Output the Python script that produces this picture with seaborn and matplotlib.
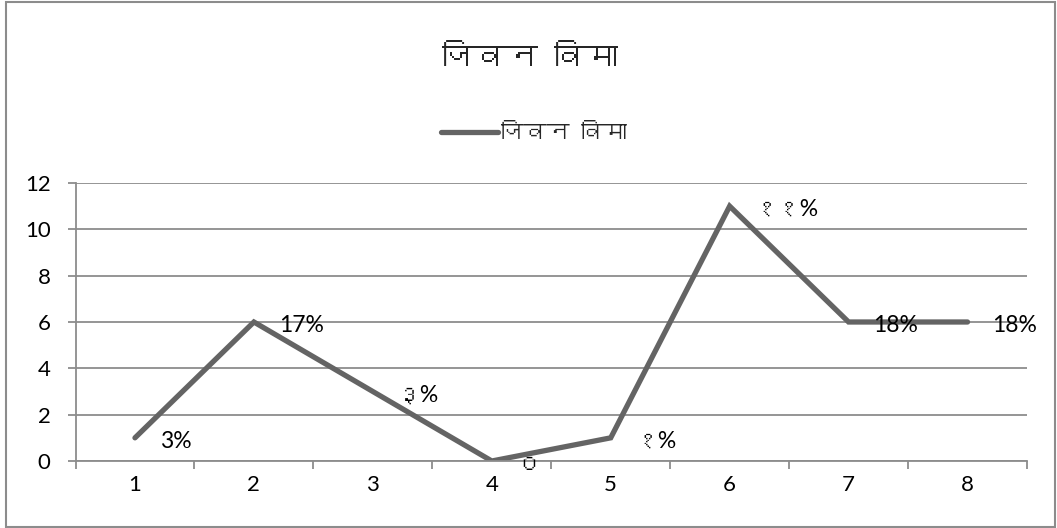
import matplotlib
matplotlib.use("Agg")
import matplotlib.pyplot as plt
import seaborn as sns
import pandas as pd
from matplotlib import font_manager
from matplotlib.patches import Rectangle
from matplotlib.ticker import FixedLocator

# ---- data ----
categories = [1, 2, 3, 4, 5, 6, 7, 8]
values = [1, 6, 3, 0, 1, 11, 6, 6]
point_labels = ["3%", "17%", "३%", "०", "१%", "११%", "18%", "18%"]
y_ticks = [0, 2, 4, 6, 8, 10, 12]
title_text = "जिवन विमा"
series_name = "जिवन विमा"

# ---- find a font with Devanagari glyphs, if any ----
deva = None
try:
    from fontTools.ttLib import TTFont
    for f in font_manager.fontManager.ttflist:
        try:
            t = TTFont(f.fname, fontNumber=0, lazy=True)
            cmap = t.getBestCmap()
            if cmap and 0x091C in cmap:
                deva = f.name
                break
        except Exception:
            pass
except Exception:
    pass

sns.set_style("white")
fams = ["Lato", "DejaVu Sans"]
if deva:
    fams = ["Lato", deva, "DejaVu Sans"]
plt.rcParams["font.family"] = fams
title_fams = ([deva] if deva else []) + ["Lato", "DejaVu Sans"]

W, H = 1057, 528
fig = plt.figure(figsize=(W / 100, H / 100), dpi=100)
ax = fig.add_axes([75.5 / W, 1 - 461 / H, (1027 - 75.5) / W, (461 - 183) / H])

df = pd.DataFrame({"cat": categories, "val": values})
sns.lineplot(data=df, x="cat", y="val", ax=ax, color="#646464", linewidth=3.8,
             label=series_name, solid_capstyle="round", solid_joinstyle="miter")

ax.set_xlim(0.5, 8.5)
ax.set_ylim(0, 12)
ax.set_xlabel("")
ax.set_ylabel("")

grid_c = "#8c8c8c"
ax.set_yticks(y_ticks)
ax.yaxis.grid(True, color=grid_c, linewidth=1.3)
ax.xaxis.grid(False)
for s in ["top", "right"]:
    ax.spines[s].set_visible(False)
for s in ["left", "bottom"]:
    ax.spines[s].set_color(grid_c)
    ax.spines[s].set_linewidth(1.3)

ax.set_xticks(categories)
ax.xaxis.set_minor_locator(FixedLocator([c - 0.5 for c in categories] + [categories[-1] + 0.5]))
ax.tick_params(axis="x", which="major", length=0, pad=10, labelsize=16, colors="black")
ax.tick_params(axis="x", which="minor", length=5.5, width=1.3, color=grid_c, direction="out", bottom=True)
ax.tick_params(axis="y", length=6, width=1.3, color=grid_c, direction="out", pad=12,
               labelsize=16, labelcolor="black", left=True)

for x, y, lab in zip(categories, values, point_labels):
    ax.annotate(lab, (x, y), xytext=(18, -2.5), textcoords="offset points",
                ha="left", va="center", fontsize=16.5, color="black", annotation_clip=False)

leg = ax.legend(loc="center", bbox_to_anchor=(0.505, 0.748), bbox_transform=fig.transFigure,
                frameon=False, handlelength=2.5, handletextpad=0.1, fontsize=16.5)
for t in leg.get_texts():
    t.set_fontfamily(title_fams)

fig.text(0.501, 0.89, title_text, ha="center", va="center", fontsize=23, family=title_fams)

fig.patches.append(Rectangle((6 / W, 1 - 527 / H), (1055 - 6) / W, (527 - 2) / H,
                             transform=fig.transFigure, fill=False, edgecolor="#8c8c8c",
                             linewidth=1.5))

fig.savefig("out.png", dpi=100)
